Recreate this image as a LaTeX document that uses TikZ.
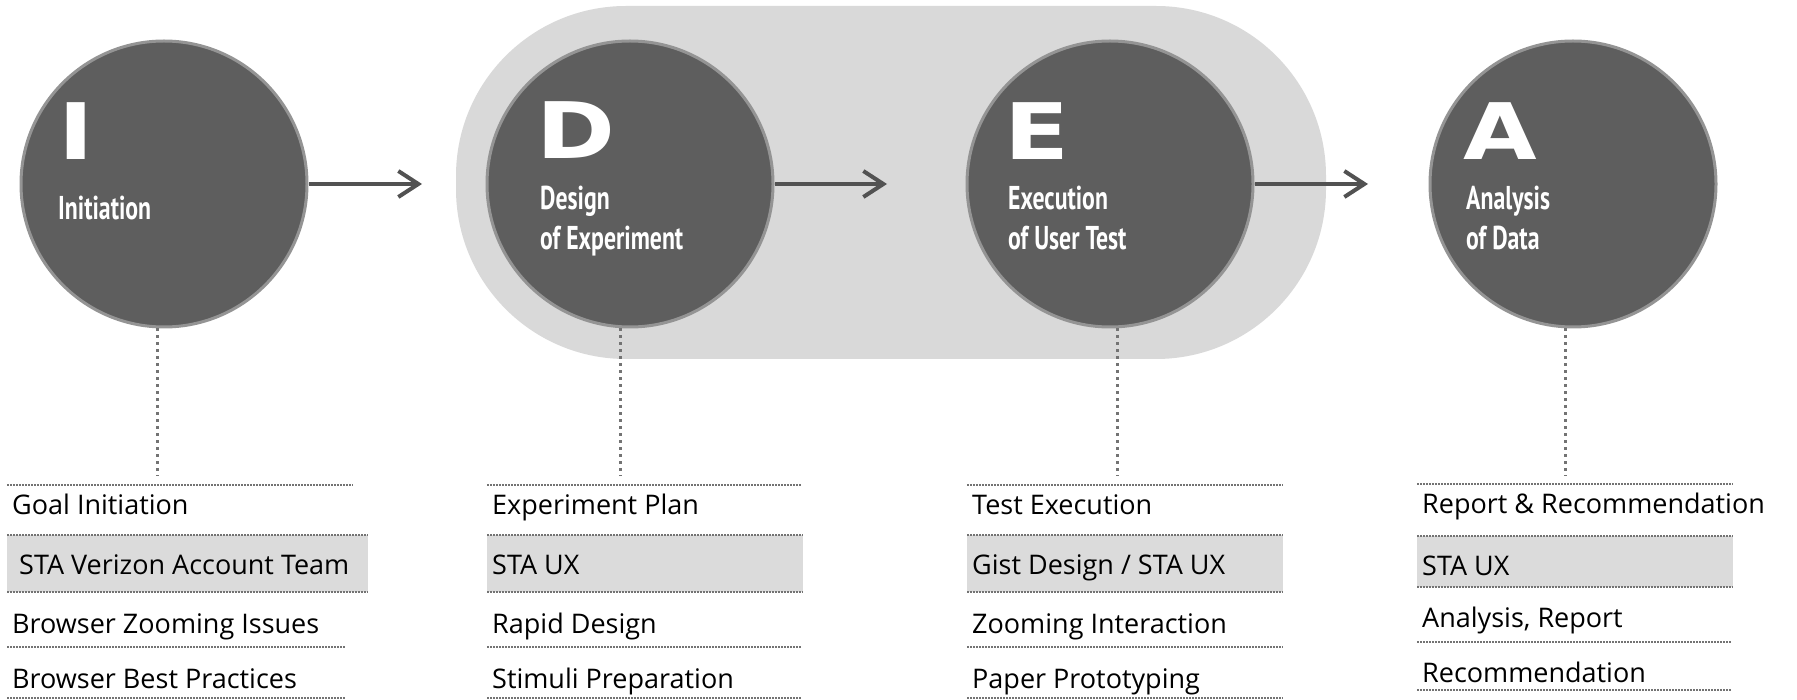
\documentclass[tikz,border=0pt]{standalone}
\usepackage{fontspec}
\setmainfont{Open Sans}
\newfontfamily\condfont{PT Sans}
\newfontfamily\heavyfont{DejaVu Sans}
\usetikzlibrary{arrows.meta}
\newcommand\cnd[1]{\scalebox{0.72}[1]{#1}}
\newcommand\wde[1]{\scalebox{1.22}[1]{#1}}
\begin{document}
\begin{tikzpicture}[x=1pt,y=-1pt,
  phase/.style={circle, fill=black!63, draw=black!42, line width=3pt, minimum size=286pt, inner sep=0pt},
  bigletter/.style={anchor=base west, text=white, inner sep=0pt, font=\heavyfont\bfseries\fontsize{78}{78}\selectfont},
  sublabel/.style={anchor=base west, text=white, inner sep=0pt, align=left, font=\condfont\bfseries\fontsize{33}{40}\selectfont},
  flow/.style={draw=black!68, line width=4pt, -{Straight Barb[length=20pt,width=26pt]}},
  vdots/.style={draw=black!55, line width=3pt, dash pattern=on 3pt off 4pt},
  rowline/.style={draw=black!55, line width=1.5pt, dash pattern=on 1.5pt off 1.5pt},
  band/.style={fill=black!14},
  rowtext/.style={anchor=base west, inner sep=0pt, text=black, font=\fontsize{27}{27}\selectfont}
]
\useasboundingbox (0,0) rectangle (1797,700);
\fill[white] (0,0) rectangle (1797,700);

% background halo around D and E
\fill[black!15, rounded corners=170pt] (456,6) rectangle (1326,359);

% phases
\node[phase] (I) at (164,184) {};
\node[phase] (D) at (630,184) {};
\node[phase] (E) at (1110,184) {};
\node[phase] (A) at (1573,184) {};

\node[bigletter] (lI) at (58,160) {\wde{I}};
\node[bigletter] (lD) at (536,159) {\wde{D}};
\node[bigletter] (lE) at (1004,160) {\wde{E}};
\node[bigletter] (lA) at (1463,160) {\wde{A}};

\node[sublabel] (sI) at (58,220) {\cnd{Initiation}};
\node[sublabel] (sD) at (540,250) {\cnd{Design}\\\cnd{of Experiment}};
\node[sublabel] (sE) at (1008,250) {\cnd{Execution}\\\cnd{of User Test}};
\node[sublabel] (sA) at (1466,250) {\cnd{Analysis}\\\cnd{of Data}};

% arrows
\coordinate (tID) at (422,184);
\coordinate (tDE) at (887,184);
\coordinate (tEA) at (1368,184);
\draw[flow] (I.east) -- (tID);
\draw[flow] (D.east) -- (tDE);
\draw[flow] (E.east) -- (tEA);

% vertical dotted connectors
\coordinate (vI) at (157,476);
\coordinate (vD) at (620,476);
\coordinate (vE) at (1117,476);
\coordinate (vA) at (1565,476);
\draw[vdots] (I.south -| vI) -- (vI);
\draw[vdots] (D.south -| vD) -- (vD);
\draw[vdots] (E.south -| vE) -- (vE);
\draw[vdots] (A.south -| vA) -- (vA);

% table column 1
\fill[band] (7,535) rectangle (368,592);
\draw[rowline] (7,485) -- (353,485);
\draw[rowline] (7,535) -- (368,535);
\draw[rowline] (7,592) -- (368,592);
\draw[rowline] (7,647) -- (345,647);
\draw[rowline] (7,698) -- (345,698);
\node[rowtext] (i1) at (12,514) {Goal Initiation};
\node[rowtext] (i2) at (19,574) {STA Verizon Account Team};
\node[rowtext] (i3) at (12,633) {Browser Zooming Issues};
\node[rowtext] (i4) at (12,688) {Browser Best Practices};

% table column 2
\fill[band] (487,535) rectangle (803,592);
\draw[rowline] (487,485) -- (802,485);
\draw[rowline] (487,535) -- (803,535);
\draw[rowline] (487,592) -- (803,592);
\draw[rowline] (487,647) -- (802,647);
\draw[rowline] (487,698) -- (802,698);
\node[rowtext] (d1) at (492,514) {Experiment Plan};
\node[rowtext] (d2) at (492,574) {STA UX};
\node[rowtext] (d3) at (492,633) {Rapid Design};
\node[rowtext] (d4) at (492,688) {Stimuli Preparation};

% table column 3
\fill[band] (967,535) rectangle (1283,592);
\draw[rowline] (967,485) -- (1283,485);
\draw[rowline] (967,535) -- (1283,535);
\draw[rowline] (967,592) -- (1283,592);
\draw[rowline] (967,647) -- (1283,647);
\draw[rowline] (967,698) -- (1283,698);
\node[rowtext] (e1) at (972,514) {Test Execution};
\node[rowtext] (e2) at (972,574) {Gist Design / STA UX};
\node[rowtext] (e3) at (972,633) {Zooming Interaction};
\node[rowtext] (e4) at (972,688) {Paper Prototyping};

% table column 4
\fill[band] (1417,536) rectangle (1733,587);
\draw[rowline] (1417,484) -- (1733,484);
\draw[rowline] (1417,536) -- (1733,536);
\draw[rowline] (1417,587) -- (1733,587);
\draw[rowline] (1417,642) -- (1731,642);
\draw[rowline] (1417,690) -- (1731,690);
\node[rowtext] (a1) at (1422,513) {Report \& Recommendation};
\node[rowtext] (a2) at (1422,575) {STA UX};
\node[rowtext] (a3) at (1422,627) {Analysis, Report};
\node[rowtext] (a4) at (1422,682) {Recommendation};
\end{tikzpicture}
\end{document}
